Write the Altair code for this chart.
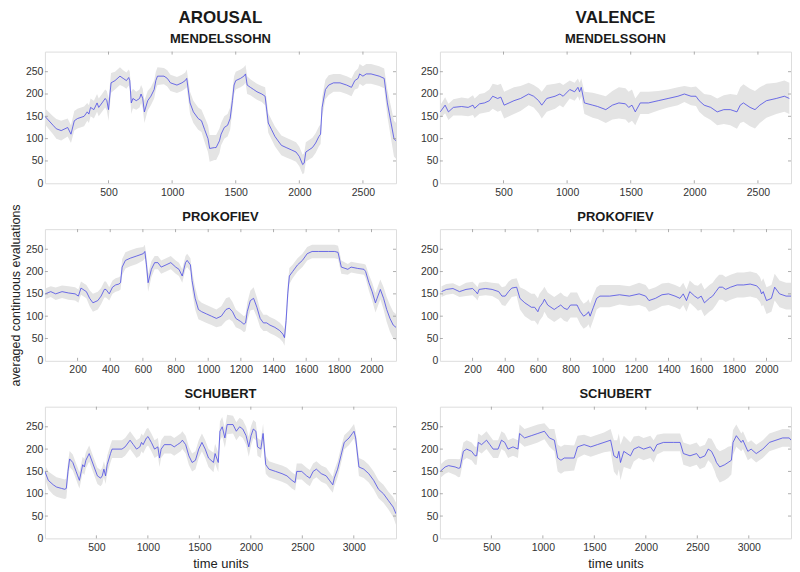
import altair as alt
import numpy as np
import pandas as pd

FONT = "Liberation Sans"
W, H = 352, 132
LINE = "#4b4be6"
BAND = "#e4e4e4"
YTICKS = [0, 50, 100, 150, 200, 250]

# ---------------- MENDELSSOHN ----------------
mend_max = 2760
mend_xticks = [500, 1000, 1500, 2000, 2500]
ma_t = [0, 64, 90, 128, 179, 205, 231, 256, 308, 333,
        346, 359, 385, 410, 423, 449, 474, 487, 500, 520,
        551, 590, 615, 641, 659, 667, 679, 692, 718, 744,
        756, 769, 782, 808, 833, 859, 872, 885, 936, 962,
        987, 1038, 1077, 1103, 1115, 1141, 1167, 1205, 1231, 1256,
        1282, 1295, 1333, 1346, 1372, 1385, 1410, 1436, 1456, 1474,
        1487, 1500, 1538, 1564, 1577, 1590, 1615, 1641, 1667, 1705,
        1731, 1756, 1782, 1808, 1833, 1859, 1897, 1936, 1974, 2000,
        2026, 2038, 2051, 2077, 2103, 2128, 2154, 2167, 2179, 2205,
        2231, 2269, 2320, 2372, 2410, 2436, 2462, 2474, 2500, 2526,
        2564, 2628, 2667, 2692, 2718, 2744, 2760]
ma_mean = [150, 130, 122, 118, 125, 110, 140, 145, 150, 160,
           155, 170, 165, 180, 170, 180, 190, 185, 165, 225,
           230, 240, 235, 230, 237, 230, 180, 190, 185, 190,
           200, 190, 160, 185, 195, 210, 230, 240, 240, 235,
           225, 220, 225, 230, 235, 180, 160, 145, 140, 120,
           100, 78, 80, 80, 95, 110, 125, 130, 145, 185,
           220, 230, 235, 240, 245, 220, 215, 210, 205, 200,
           195, 135, 120, 105, 95, 85, 80, 75, 70, 60,
           42, 45, 70, 75, 80, 90, 105, 110, 170, 210,
           220, 225, 225, 220, 215, 230, 235, 245, 240, 245,
           245, 240, 235, 180, 140, 100, 95]
ma_sd = [18, 20, 22, 22, 20, 20, 22, 22, 22, 20,
         20, 20, 20, 20, 20, 20, 20, 22, 25, 22,
         20, 20, 18, 18, 18, 20, 25, 22, 20, 20,
         20, 22, 25, 22, 20, 20, 20, 20, 18, 18,
         18, 18, 18, 18, 20, 25, 25, 25, 25, 28,
         30, 30, 28, 28, 28, 25, 25, 25, 25, 22,
         20, 20, 20, 20, 20, 20, 18, 18, 18, 18,
         20, 22, 22, 22, 22, 22, 22, 22, 22, 22,
         22, 22, 22, 22, 22, 22, 22, 22, 22, 22,
         22, 20, 20, 20, 20, 20, 22, 22, 22, 22,
         22, 22, 22, 30, 35, 40, 40]

mv_t = [3, 41, 67, 106, 170, 222, 260, 273, 312, 350,
        389, 415, 454, 479, 505, 544, 582, 634, 698, 737,
        776, 801, 840, 905, 943, 969, 1021, 1059, 1085, 1098,
        1111, 1136, 1201, 1240, 1304, 1356, 1407, 1459, 1484, 1510,
        1536, 1575, 1639, 1716, 1794, 1871, 1922, 1974, 2013, 2038,
        2077, 2129, 2180, 2232, 2283, 2335, 2361, 2386, 2438, 2477,
        2515, 2567, 2644, 2708, 2747]
mv_mean = [160, 175, 160, 170, 172, 170, 175, 168, 178, 180,
           185, 195, 190, 193, 175, 180, 185, 190, 200, 195,
           185, 175, 190, 195, 200, 195, 210, 205, 215, 205,
           215, 180, 175, 172, 165, 175, 180, 178, 170, 175,
           160, 180, 180, 185, 190, 195, 200, 195, 195, 185,
           175, 170, 160, 165, 165, 160, 175, 180, 170, 165,
           175, 185, 190, 195, 190]
mv_sd = [15, 18, 18, 18, 20, 20, 22, 22, 22, 22,
         25, 28, 30, 30, 30, 30, 30, 28, 25, 25,
         28, 30, 30, 28, 25, 25, 20, 20, 20, 20,
         20, 25, 28, 28, 30, 32, 35, 35, 35, 35,
         30, 25, 25, 22, 20, 20, 18, 20, 22, 25,
         25, 28, 30, 32, 35, 38, 40, 42, 42, 42,
         40, 38, 35, 35, 35]

# ---------------- PROKOFIEV ----------------
prok_max = 2150
prok_xticks = [200, 400, 600, 800, 1000, 1200, 1400, 1600, 1800, 2000]
pa_t = [2, 36, 66, 105, 145, 185, 205, 221, 254, 274,
        294, 324, 344, 364, 374, 394, 414, 433, 453, 463,
        473, 493, 523, 563, 602, 612, 622, 632, 652, 672,
        692, 712, 742, 771, 801, 821, 841, 861, 871, 891,
        901, 920, 940, 960, 990, 1020, 1050, 1080, 1109, 1129,
        1149, 1169, 1199, 1219, 1229, 1239, 1258, 1278, 1298, 1318,
        1338, 1358, 1378, 1408, 1437, 1457, 1467, 1477, 1487, 1497,
        1517, 1547, 1577, 1606, 1636, 1676, 1736, 1775, 1795, 1815,
        1855, 1875, 1915, 1954, 1964, 1984, 2004, 2024, 2034, 2054,
        2074, 2093, 2113, 2133, 2150]
pa_mean = [150, 155, 150, 155, 152, 150, 145, 163, 155, 140,
           130, 135, 145, 160, 160, 150, 165, 170, 172, 175,
           210, 225, 230, 235, 240, 245, 215, 175, 205, 220,
           220, 210, 215, 220, 210, 205, 190, 220, 225, 215,
           180, 140, 115, 110, 105, 100, 95, 100, 115, 118,
           110, 95, 88, 82, 85, 110, 135, 140, 120, 95,
           85, 85, 80, 75, 68, 60, 52, 90, 150, 190,
           200, 215, 225, 240, 245, 245, 245, 245, 243, 210,
           205, 210, 207, 205, 200, 175, 155, 130, 140, 160,
           140, 115, 95, 80, 75]
pa_sd = [12, 12, 14, 14, 15, 15, 15, 15, 15, 18,
         20, 20, 18, 18, 18, 15, 15, 15, 15, 15,
         18, 18, 18, 18, 15, 15, 20, 20, 18, 15,
         15, 15, 15, 15, 15, 15, 15, 15, 15, 15,
         22, 25, 22, 20, 20, 20, 20, 22, 25, 25,
         22, 20, 18, 18, 18, 20, 22, 25, 22, 20,
         18, 18, 18, 18, 18, 18, 18, 20, 22, 18,
         15, 15, 15, 15, 15, 15, 15, 15, 15, 15,
         12, 12, 12, 12, 15, 18, 20, 22, 22, 22,
         25, 28, 30, 30, 30]

pv_t = [10, 40, 80, 120, 160, 200, 220, 230, 240, 280,
        320, 360, 380, 400, 420, 440, 470, 490, 520, 540,
        560, 580, 600, 610, 630, 640, 660, 680, 700, 720,
        740, 760, 780, 800, 840, 860, 880, 900, 910, 920,
        940, 960, 980, 1040, 1100, 1160, 1220, 1260, 1280, 1320,
        1360, 1400, 1440, 1470, 1490, 1510, 1530, 1560, 1580, 1600,
        1620, 1650, 1670, 1690, 1710, 1730, 1750, 1780, 1820, 1860,
        1900, 1940, 1960, 1970, 1980, 2000, 2030, 2050, 2080, 2120,
        2150]
pv_mean = [155, 160, 162, 155, 160, 162, 155, 150, 160, 162,
           160, 155, 145, 145, 155, 163, 165, 140, 130, 125,
           120, 120, 110, 120, 130, 138, 125, 120, 115, 120,
           125, 118, 115, 125, 125, 110, 100, 105, 110, 100,
           120, 140, 145, 145, 148, 145, 150, 145, 135, 140,
           148, 150, 145, 140, 150, 135, 155, 145, 140, 145,
           130, 140, 145, 155, 165, 165, 160, 165, 170, 170,
           172, 168, 160, 150, 155, 135, 140, 165, 150, 145,
           145]
pv_sd = [12, 12, 12, 12, 15, 15, 15, 15, 15, 15,
         15, 18, 20, 22, 22, 20, 20, 25, 30, 30,
         30, 30, 30, 30, 30, 28, 28, 28, 28, 28,
         28, 28, 28, 28, 28, 28, 28, 28, 28, 28,
         28, 25, 25, 25, 22, 22, 25, 25, 25, 25,
         25, 25, 25, 25, 25, 25, 25, 25, 28, 30,
         30, 30, 30, 30, 28, 28, 28, 28, 28, 28,
         28, 28, 28, 28, 30, 30, 30, 30, 30, 30,
         30]

# ---------------- SCHUBERT ----------------
schu_max = 3410
schu_xticks = [500, 1000, 1500, 2000, 2500, 3000]
sa_t = [0, 33, 81, 113, 160, 192, 208, 224, 240, 271,
        303, 319, 335, 367, 383, 398, 430, 446, 478, 510,
        541, 557, 573, 589, 605, 637, 652, 748, 779, 827,
        859, 890, 922, 938, 954, 986, 1002, 1034, 1065, 1097,
        1113, 1129, 1160, 1224, 1256, 1287, 1319, 1335, 1367, 1398,
        1430, 1462, 1494, 1525, 1557, 1589, 1637, 1653, 1684, 1700,
        1722, 1748, 1770, 1827, 1859, 1891, 1922, 1954, 1980, 2002,
        2024, 2049, 2065, 2097, 2119, 2145, 2176, 2240, 2303, 2351,
        2399, 2430, 2446, 2494, 2542, 2573, 2605, 2637, 2684, 2732,
        2764, 2796, 2811, 2843, 2875, 2907, 2954, 2986, 3002, 3018,
        3050, 3097, 3145, 3193, 3240, 3288, 3335, 3383, 3410]
sa_mean = [150, 130, 120, 115, 112, 110, 112, 150, 178, 170,
           150, 140, 130, 165, 160, 175, 190, 180, 160, 140,
           135, 140, 155, 140, 165, 190, 200, 200, 205, 220,
           210, 200, 205, 215, 210, 225, 228, 215, 200, 205,
           180, 200, 210, 210, 205, 210, 215, 220, 210, 185,
           170, 175, 200, 215, 200, 180, 170, 190, 170, 240,
           250, 225, 255, 255, 240, 250, 245, 230, 205, 230,
           245, 240, 205, 200, 235, 165, 155, 150, 145, 140,
           130, 125, 150, 150, 140, 135, 150, 155, 145, 140,
           130, 120, 135, 155, 185, 215, 225, 235, 240, 225,
           160, 155, 145, 130, 110, 100, 85, 70, 55]
sa_sd = [15, 20, 22, 22, 22, 22, 22, 20, 18, 18,
         18, 18, 18, 18, 18, 18, 18, 18, 18, 18,
         18, 18, 18, 18, 20, 20, 20, 20, 20, 20,
         20, 20, 20, 20, 20, 20, 20, 20, 20, 20,
         20, 20, 20, 20, 20, 20, 20, 20, 20, 20,
         20, 20, 20, 20, 20, 20, 22, 22, 22, 22,
         22, 22, 22, 20, 20, 20, 20, 20, 22, 22,
         20, 20, 20, 20, 22, 20, 18, 18, 18, 18,
         18, 18, 18, 18, 18, 18, 18, 18, 18, 18,
         18, 18, 18, 18, 18, 16, 16, 16, 16, 16,
         20, 20, 20, 20, 20, 20, 20, 22, 25]

sv_t = [3, 51, 84, 148, 180, 196, 228, 260, 308, 341,
        357, 373, 405, 453, 485, 517, 565, 598, 630, 662,
        710, 758, 774, 822, 887, 951, 1015, 1064, 1112, 1144,
        1176, 1208, 1304, 1337, 1401, 1465, 1529, 1594, 1658, 1690,
        1722, 1738, 1754, 1786, 1851, 1883, 1931, 1979, 2044, 2076,
        2108, 2172, 2268, 2333, 2365, 2429, 2493, 2525, 2574, 2606,
        2638, 2670, 2686, 2718, 2766, 2799, 2831, 2847, 2879, 2927,
        2943, 2991, 3023, 3072, 3136, 3200, 3264, 3329, 3393, 3410]
sv_mean = [150, 160, 163, 160, 157, 158, 195, 200, 195, 185,
           185, 215, 210, 220, 210, 200, 200, 220, 215, 200,
           205, 200, 235, 225, 230, 235, 240, 225, 220, 180,
           175, 180, 180, 205, 210, 205, 210, 215, 220, 185,
           180, 195, 170, 195, 185, 200, 205, 200, 205, 195,
           210, 215, 215, 215, 190, 185, 190, 180, 185, 200,
           195, 180, 170, 160, 165, 170, 175, 215, 230, 215,
           220, 195, 200, 190, 200, 215, 220, 225, 225, 220]
sv_sd = [15, 15, 15, 18, 20, 20, 20, 20, 20, 20,
         20, 20, 20, 20, 20, 20, 20, 20, 20, 20,
         20, 20, 20, 20, 20, 20, 18, 20, 25, 30,
         30, 30, 28, 25, 22, 22, 22, 22, 25, 35,
         40, 40, 40, 35, 30, 28, 25, 25, 25, 25,
         22, 20, 20, 20, 25, 25, 25, 25, 25, 25,
         28, 30, 32, 35, 35, 35, 32, 28, 25, 20,
         20, 20, 20, 20, 20, 20, 20, 20, 20, 20]


def panel(t, mean, sd, xmax, xticks, name, ytitle=False, xtitle=False, column=None):
    m = np.array(mean, dtype=float)
    s = np.array(sd, dtype=float)
    df = pd.DataFrame({"t": t, "m": m, "lo": m - s, "hi": m + s})
    xscale = alt.Scale(domain=[0, xmax], nice=False, zero=False)
    yscale = alt.Scale(domain=[0, 295], nice=False)

    xaxis = dict(values=xticks, format="d", grid=False, domain=False, ticks=False,
                 labelPadding=4, labelFontSize=10.5, labelColor="#333",
                 labelFont=FONT, title=None)
    if xtitle:
        xaxis.update(title="time units", titleFontSize=13, titleFontWeight="normal",
                     titleColor="#222", titleFont=FONT, titlePadding=5)
    yaxis = dict(values=YTICKS, format="d", grid=False, domain=False, ticks=False,
                 labelPadding=2, labelFontSize=10.5, labelColor="#333",
                 labelFont=FONT, title=None)
    if ytitle:
        yaxis.update(title="averaged continuous evaluations", titleFontSize=12.5,
                     titleFontWeight="normal", titleColor="#222", titleFont=FONT,
                     titlePadding=3)
    XA = alt.Axis(**xaxis)
    YA = alt.Axis(**yaxis)

    base = alt.Chart(df)
    band = base.mark_area(color=BAND, clip=True).encode(
        x=alt.X("t:Q", scale=xscale, axis=XA),
        y=alt.Y("lo:Q", scale=yscale, axis=YA),
        y2="hi:Q",
    )
    line = base.mark_line(color=LINE, strokeWidth=0.8, clip=True).encode(
        x=alt.X("t:Q", scale=xscale, axis=XA),
        y=alt.Y("m:Q", scale=yscale, axis=YA),
    )
    xt = alt.Chart(pd.DataFrame({"v": xticks}))
    yt = alt.Chart(pd.DataFrame({"v": YTICKS[1:]}))
    tick_col = "#999999"
    xt_top = xt.mark_rule(color=tick_col, strokeWidth=0.8).encode(
        x=alt.X("v:Q", scale=xscale, axis=XA), y=alt.value(0), y2=alt.value(3))
    xt_bot = xt.mark_rule(color=tick_col, strokeWidth=0.8).encode(
        x=alt.X("v:Q", scale=xscale, axis=XA), y=alt.value(H - 3), y2=alt.value(H))
    yt_left = yt.mark_rule(color=tick_col, strokeWidth=0.8).encode(
        y=alt.Y("v:Q", scale=yscale, axis=YA), x=alt.value(0), x2=alt.value(3))
    yt_right = yt.mark_rule(color=tick_col, strokeWidth=0.8).encode(
        y=alt.Y("v:Q", scale=yscale, axis=YA), x=alt.value(W - 3), x2=alt.value(W))

    if column:
        title = alt.TitleParams(column, subtitle=name, fontSize=17, fontWeight="bold",
                                font=FONT, color="#1a1a1a", subtitleFontSize=13,
                                subtitleFontWeight="bold", subtitleFont=FONT,
                                subtitleColor="#1a1a1a", subtitlePadding=6,
                                offset=4, anchor="middle", frame="group")
    else:
        # the long y-axis title of the middle-left panel reaches above the plot,
        # so that panel's title is pulled back down to sit like the others
        title = alt.TitleParams(name, fontSize=13, fontWeight="bold", font=FONT,
                                color="#1a1a1a", offset=(-20 if ytitle else 5),
                                anchor="middle", frame="group")

    return alt.layer(band, line, xt_top, xt_bot, yt_left, yt_right).properties(
        width=W, height=H, title=title)


panels = [
    panel(ma_t, ma_mean, ma_sd, mend_max, mend_xticks, "MENDELSSOHN", column="AROUSAL"),
    panel(mv_t, mv_mean, mv_sd, mend_max, mend_xticks, "MENDELSSOHN", column="VALENCE"),
    panel(pa_t, pa_mean, pa_sd, prok_max, prok_xticks, "PROKOFIEV", ytitle=True),
    panel(pv_t, pv_mean, pv_sd, prok_max, prok_xticks, "PROKOFIEV"),
    panel(sa_t, sa_mean, sa_sd, schu_max, schu_xticks, "SCHUBERT", xtitle=True),
    panel(sv_t, sv_mean, sv_sd, schu_max, schu_xticks, "SCHUBERT", xtitle=True),
]

chart = alt.concat(*panels, columns=2, spacing={"row": 46, "column": 44},
                   bounds="flush").properties(
    padding={"left": 0, "top": 0, "right": 0, "bottom": 0}
).configure_view(stroke="#8a8a8a", strokeWidth=1).configure(font=FONT)

chart.save("out.html", embed_options={"renderer": "svg", "actions": False})
